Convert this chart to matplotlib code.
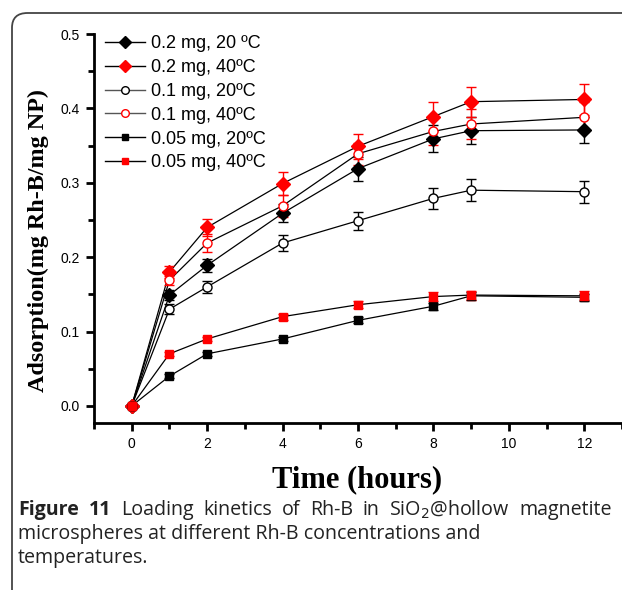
import matplotlib
matplotlib.use("Agg")
import matplotlib.pyplot as plt
from matplotlib.patches import FancyBboxPatch
from matplotlib.ticker import MultipleLocator

# data
times = [0, 1, 2, 4, 6, 8, 9, 12]

d20 = [0, 0.149, 0.189, 0.259, 0.319, 0.359, 0.370, 0.371]
d20_err = [0, 0.007, 0.009, 0.012, 0.016, 0.018, 0.018, 0.018]
d40 = [0, 0.180, 0.240, 0.299, 0.349, 0.389, 0.409, 0.412]
d40_err = [0, 0.008, 0.011, 0.015, 0.017, 0.019, 0.020, 0.021]
c20 = [0, 0.130, 0.160, 0.219, 0.249, 0.279, 0.290, 0.288]
c20_err = [0, 0.007, 0.008, 0.011, 0.012, 0.014, 0.015, 0.015]
c40 = [0, 0.169, 0.219, 0.269, 0.339, 0.369, 0.379, 0.388]
c40_err = [0, 0.006, 0.012, 0.015, 0.015, 0.018, 0.020, 0.020]
s20 = [0, 0.040, 0.070, 0.090, 0.115, 0.134, 0.148, 0.146]
s20_err = [0, 0.003, 0.003, 0.003, 0.004, 0.005, 0.005, 0.005]
s40 = [0, 0.070, 0.090, 0.120, 0.136, 0.147, 0.149, 0.148]
s40_err = [0, 0.003, 0.003, 0.004, 0.005, 0.006, 0.006, 0.006]

labels = ["0.2 mg, 20 ºC", "0.2 mg, 40ºC", "0.1 mg, 20ºC",
          "0.1 mg, 40ºC", "0.05 mg, 20ºC", "0.05 mg, 40ºC"]

fig = plt.figure(figsize=(6.22, 5.9), dpi=100)

# rounded frame of the figure panel
frame = FancyBboxPatch((12 / 622, -0.2), 1.2, 1 - 13 / 590 + 0.2,
                       boxstyle="round,pad=0,rounding_size=0.025",
                       transform=fig.transFigure, fill=False,
                       edgecolor="#444444", lw=1.3, clip_on=False)
fig.patches.append(frame)

ax = fig.add_axes([94 / 622, 1 - 423 / 590, 1 - 94 / 622, (423 - 34) / 590])

series = [
    (d20, d20_err, "D", "black", "black", 7, "black"),
    (d40, d40_err, "D", "red", "red", 7, "black"),
    (c20, c20_err, "o", "white", "black", 6.5, "#555555"),
    (c40, c40_err, "o", "white", "red", 6.5, "#555555"),
    (s20, s20_err, "s", "black", "black", 6, "black"),
    (s40, s40_err, "s", "red", "red", 6, "black"),
]

handles = []
for (y, e, m, fc, ec, ms, lc), lab in zip(series, labels):
    ax.plot(times, y, color="black", lw=0.9, zorder=2)
    ax.errorbar(times, y, yerr=e, fmt="none", ecolor=ec, elinewidth=1.0,
                capsize=3.5, capthick=1.0, zorder=3)
    ax.plot(times, y, ls="none", marker=m, ms=ms, mfc=fc, mec=ec,
            mew=1.0, zorder=4)
    h, = ax.plot([], [], color=lc, lw=1.0, marker=m, ms=ms - 1,
                 mfc=fc, mec=ec, mew=1.0)
    handles.append(h)

ax.set_xlim(-1, 13)
ax.set_ylim(-0.023, 0.5)
ax.xaxis.set_minor_locator(MultipleLocator(1))
ax.yaxis.set_minor_locator(MultipleLocator(0.05))
ax.set_xticks([0, 2, 4, 6, 8, 10, 12])
ax.set_yticks([0.0, 0.1, 0.2, 0.3, 0.4, 0.5])
ax.set_yticklabels(["0.0", "0.1", "0.2", "0.3", "0.4", "0.5"])

for side in ["top", "right"]:
    ax.spines[side].set_visible(False)
for side in ["left", "bottom"]:
    ax.spines[side].set_linewidth(2.0)
ax.tick_params(which="major", direction="out", length=6, width=2,
               labelsize=10, pad=4)
ax.tick_params(which="minor", direction="out", length=4, width=2)
for t in ax.get_xticklabels() + ax.get_yticklabels():
    t.set_family("Liberation Sans")

fig.text(357 / 622, 1 - 480 / 590, "Time (hours)", family="Liberation Serif",
         fontweight="bold", fontsize=22, ha="center", va="center")
fig.text(38 / 622, 1 - 241 / 590, "Adsorption(mg Rh-B/mg NP)",
         family="Liberation Serif", fontweight="bold", fontsize=17.4,
         rotation=90, ha="center", va="center")

leg = ax.legend(handles, labels, loc="upper left", bbox_to_anchor=(0.0, 1.025),
                frameon=False, handlelength=2.2, handletextpad=0.35,
                labelspacing=0.38, borderaxespad=0.2,
                prop={"family": "Liberation Sans", "size": 13})

# caption, first line justified between x=18 and x=612
cap_kw = dict(family="Open Sans", fontsize=14.1, color="#222222", va="center")
renderer = fig.canvas.get_renderer()
W = fig.bbox.width
y1 = 1 - 510 / 590
words = [("Figure", "bold"), ("11", "bold"), ("Loading", "normal"),
         ("kinetics", "normal"), ("of", "normal"), ("Rh-B", "normal"),
         ("in", "normal"), ("SiO$_2$@hollow", "normal"),
         ("magnetite", "normal")]
arts = [fig.text(0, y1, w, fontweight=fw, **cap_kw) for w, fw in words]
widths = [a.get_window_extent(renderer=renderer).width for a in arts]
gap = (612 - 18 - sum(widths)) / (len(words) - 1)
x = 18
for a, w in zip(arts, widths):
    a.set_x(x / W)
    x += w + gap
fig.text(18 / 622, 1 - 534 / 590,
         "microspheres at different Rh-B concentrations and", **cap_kw)
fig.text(18 / 622, 1 - 558 / 590, "temperatures.", **cap_kw)

fig.savefig("out.png", dpi=100)
